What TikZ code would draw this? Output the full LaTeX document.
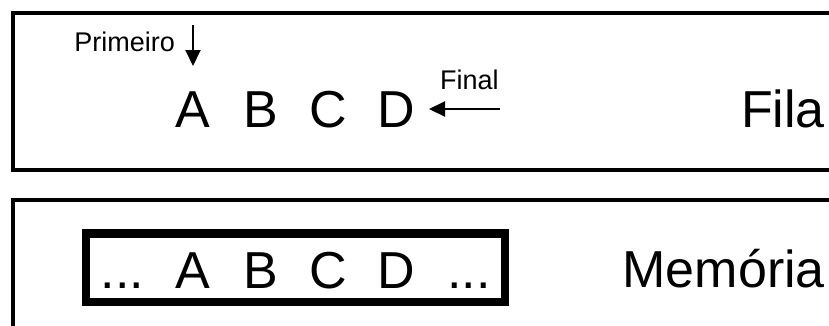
\documentclass[tikz,border=0pt]{standalone}
\usepackage{fontspec}
\setmainfont{Liberation Sans}
\usetikzlibrary{%
	arrows.meta,%
	calc%
}

\tikzset{
	grande/.style={inner sep=0pt, font=\fontsize{52}{60}\selectfont},
	pequeno/.style={inner sep=0pt, font=\fontsize{27}{32}\selectfont},
	moldura/.style={line width=4pt},
	bloco/.style={line width=8.5pt},
	seta/.style={line width=2pt, -{Triangle[length=16pt,width=15pt]}}
}

\begin{document}
\begin{tikzpicture}[x=1pt, y=-1pt]
		\useasboundingbox (0,0) rectangle (829,325);
		\clip (0,0) rectangle (829,325);
		
		% Frames
		\draw[moldura] (13,13) rectangle (900,170);
		\draw[moldura] (13,200) rectangle (900,400);
		\draw[bloco] (86,233.5) rectangle (505,302);
		
		% Queue
		\foreach \name/\x in {A/192.5,B/261,C/328,D/396}
		\node[grande, anchor=base] (f\name) at (\x,127) {\name};
		\node[grande, anchor=base east] (fila) at (825,127) {Fila};
		
		% Memory
		\foreach \name/\x in {A/192.5,B/261,C/328,D/396}
		\node[grande, anchor=base] (m\name) at (\x,288) {\name};
		\node[grande, anchor=base] (mini) at (122.5,288) {...};
		\node[grande, anchor=base] (mfim) at (469,288) {...};
		\node[grande, anchor=base east] (memoria) at (825,287) {Memória};
		
		% Pointers
		\node[pequeno, anchor=base east] (primeiro) at (175,51) {Primeiro};
		\node[pequeno, anchor=base west] (final) at (440,89) {Final};
		\coordinate (pini) at (193,25);
		\coordinate (pfim) at (193,66);
		\coordinate (fini) at (500,109);
		\coordinate (ffim) at (429,109);
		\draw[seta] (pini) -- (pfim);
		\draw[seta] (fini) -- (ffim);
	\end{tikzpicture}
\end{document}
